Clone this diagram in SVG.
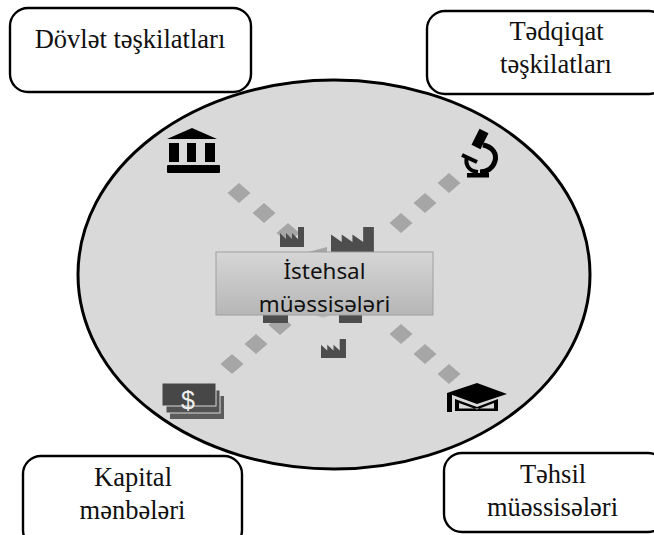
<svg xmlns="http://www.w3.org/2000/svg" width="654" height="535" viewBox="0 0 654 535">
<style>
.box{fill:#fff;stroke:#000;stroke-width:2.4}
.lbl{font-family:"Liberation Serif",serif;font-size:26.500px;fill:#111;text-anchor:middle}
.ctr{font-family:"Noto Sans",sans-serif;font-size:22.400px;fill:#111;text-anchor:middle}
.fac{fill:#4d4d4d}
.blk{fill:#000}
</style>
<defs>
<path id="d" d="M0-10L11.500 0 0 10-11.500 0Z" fill="#a6a6a6"/>
<path id="f" d="M0 20V6L8 12V6L16 12V6L24 12V0H32V20Z"/>
<linearGradient id="g" x1="0" y1="0" x2="0" y2="1"><stop offset="0" stop-color="#d6d6d6"/><stop offset="1" stop-color="#b6b6b6"/></linearGradient>
</defs>
<g id="hub-disc"><ellipse cx="334" cy="274.500" rx="256" ry="194.500" fill="#d9d9d9" stroke="#000" stroke-width="3"/></g>
<g id="connectors">
<use href="#d" x="239" y="193"/><use href="#d" x="264" y="213"/><use href="#d" x="288" y="233"/>
<use href="#d" x="449" y="183"/><use href="#d" x="425" y="203"/><use href="#d" x="401" y="223"/>
<use href="#d" x="232" y="364"/><use href="#d" x="256" y="344"/><use href="#d" x="280" y="325"/>
<use href="#d" x="449" y="374"/><use href="#d" x="425" y="354"/><use href="#d" x="401" y="334"/>
<path d="M308 252L327 247V252Z" fill="#a6a6a6"/>
<path d="M315 315H331L323 318Z" fill="#bdbdbd"/>
</g>
<g id="factories" class="fac">
<use href="#f" transform="translate(280 227) scale(.75 1)"/>
<use href="#f" transform="translate(331 227) scale(1.34 1.25)"/>
<use href="#f" transform="translate(321 339) scale(.78 .95)"/>
<rect x="263" y="306" width="25" height="17"/>
<rect x="339" y="306" width="23" height="17"/>
</g>
<g id="icon-bank" class="blk">
<path d="M192 128L217 139H167Z"/>
<rect x="169" y="143" width="10" height="19"/><rect x="187" y="143" width="9" height="19"/><rect x="205" y="143" width="10" height="19"/>
<rect x="167" y="165" width="53" height="8" rx="1"/>
</g>
<g id="icon-microscope">
<path d="M484 131L476 147" stroke="#000" stroke-width="10" fill="none"/>
<path d="M483 145C493 147 497 154 495 161 493 168 487 172 480 172" fill="none" stroke="#000" stroke-width="5"/>
<path d="M462 155L477 162" stroke="#000" stroke-width="4"/>
<path d="M467 157C465 164 468 171 478 172" fill="none" stroke="#000" stroke-width="4"/>
<rect x="467" y="173" width="22" height="4.500" class="blk"/>
</g>
<g id="icon-money">
<rect x="170" y="396" width="54" height="23" fill="#5c5c5c"/>
<rect x="166" y="390" width="54" height="23" fill="#525252" stroke="#d9d9d9" stroke-width="1"/>
<rect x="162" y="383" width="54" height="23" fill="#474747" stroke="#d9d9d9" stroke-width="1"/>
<text x="188" y="409" font-family="Liberation Sans,sans-serif" font-size="25" fill="#f0f0f0" text-anchor="middle">$</text>
</g>
<g id="icon-cap" class="blk">
<path d="M477 383L507 394 477 404 447 393Z"/>
<path d="M447 393H452V412H447Z"/>
<path d="M455 399L477 407 498 399V411H455Z"/>
<path d="M459 403L477 409.500 494 403V408.500H459Z" fill="#d9d9d9"/>
</g>
<g id="node-dovlet"><rect class="box" x="10" y="8" width="241" height="84" rx="18"/><text class="lbl" x="130" y="48">Dövlət təşkilatları</text></g>
<g id="node-tedqiqat"><rect class="box" x="427" y="11" width="240" height="83" rx="18"/><text class="lbl" x="556.500" y="40">Tədqiqat</text><text class="lbl" x="556" y="73">təşkilatları</text></g>
<g id="node-kapital"><rect class="box" x="23" y="456" width="219" height="92" rx="18"/><text class="lbl" x="133" y="486">Kapital</text><text class="lbl" x="132.500" y="519">mənbələri</text></g>
<g id="node-tehsil"><rect class="box" x="444" y="453" width="222" height="79" rx="18"/><text class="lbl" x="553" y="483">Təhsil</text><text class="lbl" x="552.500" y="516">müəssisələri</text></g>
<g id="node-istehsal"><rect x="216" y="252" width="217" height="63" fill="url(#g)" stroke="#a0a0a0" stroke-width="1"/><text class="ctr" x="324.500" y="279">İstehsal</text><text class="ctr" x="324.500" y="312">müəssisələri</text></g>
</svg>
